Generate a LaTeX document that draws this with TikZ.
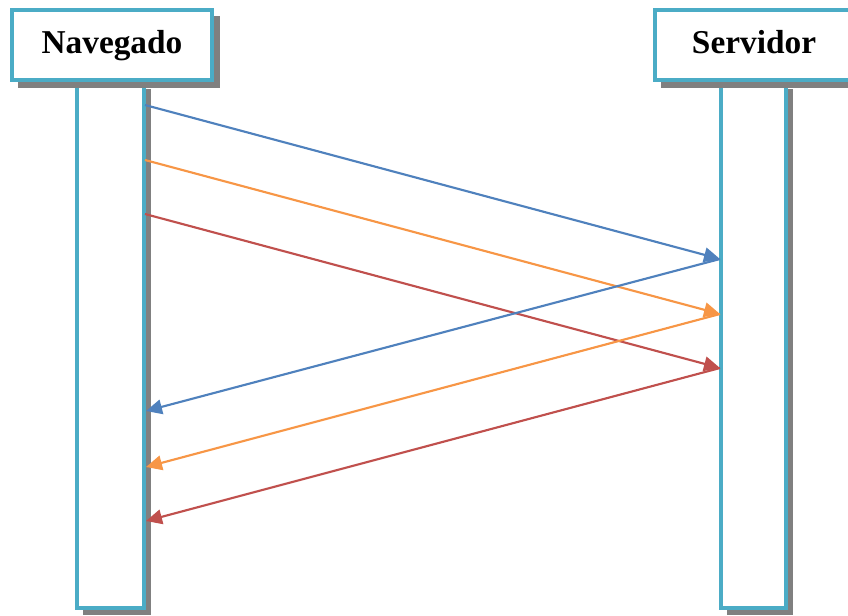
\documentclass[tikz,border=0pt]{standalone}
\usepackage{fontspec}
\setmainfont{Liberation Serif}
\usetikzlibrary{arrows.meta}
\definecolor{frame}{HTML}{4BACC6}
\definecolor{shade}{HTML}{808080}
\definecolor{msgblue}{HTML}{4F81BD}
\definecolor{msgorange}{HTML}{F79646}
\definecolor{msgred}{HTML}{C0504D}
\tikzset{
  actorbox/.style={draw=frame, line width=2.4pt, fill=white},
  shadowbox/.style={fill=shade, draw=none},
  msg/.style={line width=1.6pt, -{Triangle[length=12pt,width=11pt]}},
  label/.style={font=\fontsize{25}{28}\selectfont\bfseries, anchor=base}
}
\begin{document}
\begin{tikzpicture}[x=0.75pt, y=-0.75pt]
\useasboundingbox (0,0) rectangle (848,615);
% lifelines with their shadows
\fill[shadowbox] (83,89) rectangle (151,615);
\draw[actorbox] (77,82) rectangle (144,608);
\fill[shadowbox] (727,89) rectangle (793,615);
\draw[actorbox] (721,82) rectangle (786,608);
% header boxes with their shadows
\fill[shadowbox] (18,16) rectangle (220,88);
\draw[actorbox] (12,10) rectangle (212,80);
\fill[shadowbox] (661,16) rectangle (870,88);
\draw[actorbox] (655,10) rectangle (864,80);
\node[label] (nav) at (112,53) {Navegado};
\node[label] (srv) at (754,53) {Servidor};
% message anchors on the lifelines
\coordinate (n1) at (145,105);
\coordinate (n2) at (145,160);
\coordinate (n3) at (145,214);
\coordinate (s1) at (720,259);
\coordinate (s2) at (720,314);
\coordinate (s3) at (720,368);
\coordinate (r1) at (146,411);
\coordinate (r2) at (146,467);
\coordinate (r3) at (146,521);
% requests
\draw[msg, msgblue] (n1) -- (s1);
\draw[msg, msgorange] (n2) -- (s2);
\draw[msg, msgred] (n3) -- (s3);
% responses
\draw[msg, msgblue] (s1) -- (r1);
\draw[msg, msgorange] (s2) -- (r2);
\draw[msg, msgred] (s3) -- (r3);
\end{tikzpicture}
\end{document}
